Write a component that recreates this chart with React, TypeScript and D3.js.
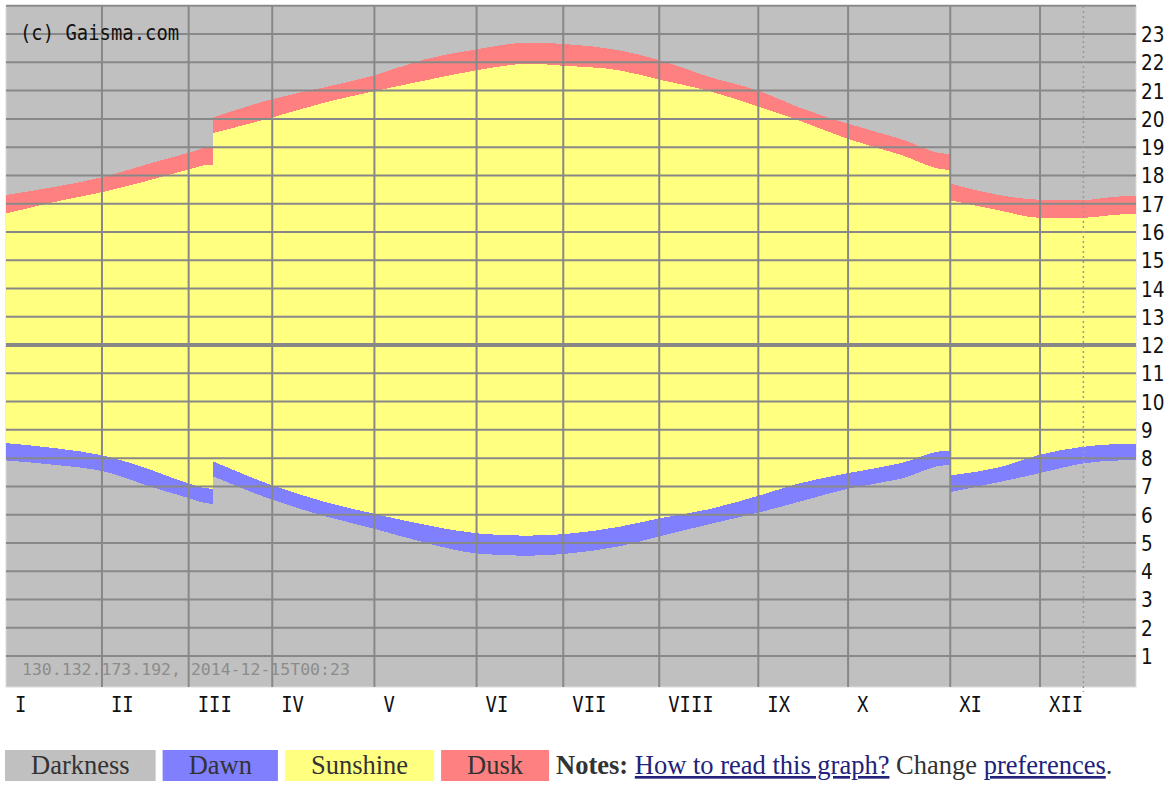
import { useEffect, useRef } from 'react';
import * as d3 from 'd3';

// day of year (0 = 1 Jan) and times in hours
const days = [0, 16, 32, 47, 59, 66, 67, 86, 103, 119, 135, 152, 169, 180, 198, 211, 227, 244, 256, 272, 289, 304, 305, 321, 334, 347, 360, 365];
const dawn = [7.92, 7.76, 7.52, 6.98, 6.59, 6.39, 7.35, 6.53, 5.95, 5.5, 5.02, 4.63, 4.55, 4.61, 4.88, 5.23, 5.66, 6.1, 6.45, 6.92, 7.27, 7.76, 6.8, 7.16, 7.47, 7.8, 7.92, 7.93];
const sunrise = [8.53, 8.35, 8.08, 7.58, 7.1, 6.92, 7.88, 7.04, 6.45, 6.03, 5.65, 5.34, 5.26, 5.31, 5.57, 5.87, 6.19, 6.7, 7.1, 7.47, 7.82, 8.27, 7.39, 7.68, 8.12, 8.39, 8.5, 8.5];
const sunset = [16.65, 17.07, 17.43, 17.85, 18.21, 18.38, 19.5, 20.05, 20.58, 20.98, 21.35, 21.72, 21.95, 21.88, 21.72, 21.39, 20.99, 20.4, 19.95, 19.29, 18.73, 18.2, 17.12, 16.76, 16.5, 16.5, 16.62, 16.64];
const dusk = [17.31, 17.6, 17.96, 18.44, 18.8, 19.0, 20.05, 20.7, 21.12, 21.54, 22.1, 22.46, 22.7, 22.65, 22.43, 22.08, 21.49, 20.96, 20.41, 19.83, 19.29, 18.76, 17.71, 17.3, 17.14, 17.12, 17.26, 17.27];

// clock changes (the curves jump here)
const dstSwitchDays = [67, 305];

// month lines as drawn in the picture
const monthDays = [0, 31, 59, 86, 119, 152, 180, 211, 243, 272, 305, 334];
const monthLabels = ['I', 'II', 'III', 'IV', 'V', 'VI', 'VII', 'VIII', 'IX', 'X', 'XI', 'XII'];
const hourLabels = [1, 2, 3, 4, 5, 6, 7, 8, 9, 10, 11, 12, 13, 14, 15, 16, 17, 18, 19, 20, 21, 22, 23];
const todayDay = 348;

const legendLabels = ['Darkness', 'Dawn', 'Sunshine', 'Dusk'];
const legendColors = ['#c0c0c0', '#8080ff', '#ffff80', '#ff8080'];

const W = 1173;
const H = 785;

export default function App() {
  const svgRef = useRef<SVGSVGElement>(null);

  useEffect(() => {
    if (!svgRef.current) return;
    const svg = d3.select(svgRef.current);
    svg.selectAll('*').remove();

    const left = 6;
    const right = 1136;
    const top = 6;
    const bottom = 687;

    const x = d3.scaleLinear().domain([0, 365]).range([left, right]);
    const y = d3.scaleLinear().domain([0, 24]).range([684.3, 5.8]);

    svg.append('rect')
      .attr('x', left).attr('y', top)
      .attr('width', right - left).attr('height', bottom - top)
      .attr('fill', '#c0c0c0')
      .attr('stroke', '#dcdcdc').attr('stroke-width', 1);

    const rows = days.map((d, i) => ({ day: d, dawn: dawn[i], rise: sunrise[i], set: sunset[i], dusk: dusk[i] }));
    const bounds = [0, ...dstSwitchDays, Infinity];
    const segments = bounds.slice(0, -1).map((b, k) => {
      const seg = rows.filter((r) => r.day >= b && r.day < bounds[k + 1]);
      if (k < bounds.length - 2) seg.push({ ...seg[seg.length - 1], day: bounds[k + 1] });
      return seg;
    });

    type Row = (typeof rows)[number];
    const band = (lo: keyof Row, hi: keyof Row) =>
      d3.area<Row>()
        .x((d) => x(d.day))
        .y0((d) => y(d[lo] as number))
        .y1((d) => y(d[hi] as number))
        .curve(d3.curveMonotoneX);

    const bands: [keyof Row, keyof Row, string][] = [
      ['dawn', 'rise', legendColors[1]],
      ['rise', 'set', legendColors[2]],
      ['set', 'dusk', legendColors[3]],
    ];
    segments.forEach((seg) => {
      bands.forEach(([lo, hi, color]) => {
        svg.append('path').datum(seg)
          .attr('d', band(lo, hi))
          .attr('fill', color)
          .attr('shape-rendering', 'crispEdges');
      });
    });

    const grid = svg.append('g').attr('stroke', '#888888');
    grid.selectAll('line.h')
      .data([...hourLabels, 24])
      .join('line')
      .attr('x1', left).attr('x2', right)
      .attr('y1', (d) => y(d)).attr('y2', (d) => y(d))
      .attr('stroke-width', (d) => (d === 12 ? 4 : 2));
    grid.selectAll('line.v')
      .data(monthDays.slice(1))
      .join('line')
      .attr('x1', (d) => x(d)).attr('x2', (d) => x(d))
      .attr('y1', top).attr('y2', bottom)
      .attr('stroke-width', 2);

    svg.append('line')
      .attr('x1', x(todayDay)).attr('x2', x(todayDay))
      .attr('y1', top).attr('y2', bottom + 5)
      .attr('stroke', '#999999').attr('stroke-width', 1.5)
      .attr('stroke-dasharray', '2,3');

    const mono = '"DejaVu Sans Mono", monospace';

    svg.append('text')
      .attr('transform', 'translate(20,40) scale(0.9,1)')
      .attr('font-family', mono).attr('font-size', 21).attr('fill', '#111')
      .text('(c) Gaisma.com');

    svg.append('text')
      .attr('x', 22).attr('y', 675)
      .attr('font-family', mono).attr('font-size', 16.5).attr('fill', '#8c8c8c')
      .text('130.132.173.192, 2014-12-15T00:23');

    svg.append('g').selectAll('text')
      .data(monthDays)
      .join('text')
      .attr('transform', (d) => `translate(${x(d) + 9},712) scale(0.9,1)`)
      .attr('font-family', mono).attr('font-size', 21).attr('fill', '#111')
      .text((_, i) => monthLabels[i]);

    svg.append('g').selectAll('text')
      .data(hourLabels)
      .join('text')
      .attr('transform', (d) => `translate(1141,${y(d) + 8}) scale(0.88,1)`)
      .attr('font-family', '"DejaVu Sans", sans-serif').attr('font-size', 21).attr('fill', '#111')
      .text((d) => String(d));

    // legend
    const serif = '"Liberation Serif", "Times New Roman", serif';
    const fs = 26.5;
    const legend = svg.append('g');
    let cx = 5;
    const pad = 26;
    legendLabels.forEach((label, i) => {
      const rect = legend.append('rect').attr('y', 750).attr('height', 31).attr('fill', legendColors[i]);
      const t = legend.append('text')
        .attr('y', 774).attr('font-family', serif).attr('font-size', fs).attr('fill', '#333')
        .attr('text-anchor', 'middle')
        .text(label);
      const w = (t.node() as SVGTextElement).getComputedTextLength() + pad * 2;
      rect.attr('x', cx).attr('width', w);
      t.attr('x', cx + w / 2);
      cx += w + 7;
    });

    const notes = legend.append('text')
      .attr('x', cx).attr('y', 774)
      .attr('font-family', serif).attr('font-size', fs).attr('fill', '#333');
    notes.append('tspan').attr('font-weight', 'bold').text('Notes: ');
    notes.append('tspan').attr('fill', '#22227a').attr('text-decoration', 'underline').text('How to read this graph?');
    notes.append('tspan').text(' Change ');
    notes.append('tspan').attr('fill', '#22227a').attr('text-decoration', 'underline').text('preferences');
    notes.append('tspan').text('.');
  }, []);

  return (
    <svg
      ref={svgRef}
      width={W}
      height={H}
      style={{ position: 'absolute', left: 0, top: 0, background: '#fff' }}
    />
  );
}
